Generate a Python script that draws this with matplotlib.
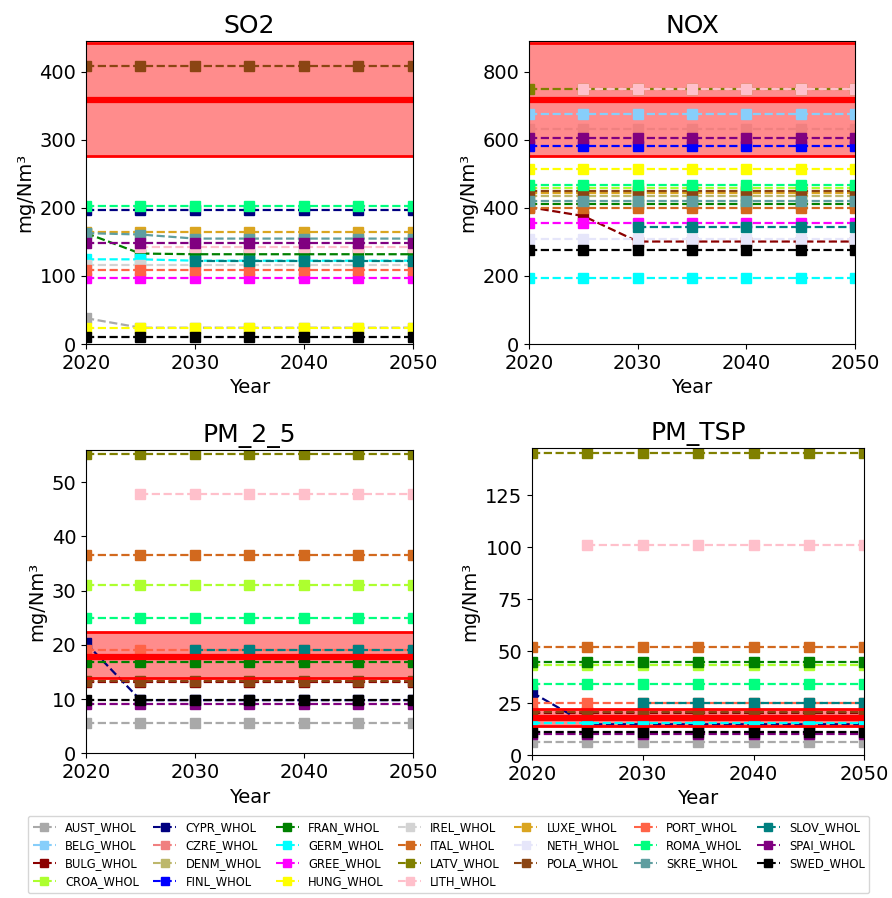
import matplotlib
matplotlib.use("Agg")
import matplotlib.pyplot as plt
from matplotlib.lines import Line2D
import numpy as np

nan = np.nan

years = [2020, 2025, 2030, 2035, 2040, 2045, 2050]

countries = ['AUST', 'BELG', 'BULG', 'CROA', 'CYPR', 'CZRE', 'DENM', 'FINL', 'FRAN',
             'GERM', 'GREE', 'HUNG', 'IREL', 'ITAL', 'LATV', 'LITH', 'LUXE', 'NETH',
             'POLA', 'PORT', 'ROMA', 'SKRE', 'SLOV', 'SPAI', 'SWED']

colors = ['darkgray', 'lightskyblue', 'darkred', 'greenyellow', 'navy', 'lightcoral',
          'darkkhaki', 'blue', 'green', 'cyan', 'magenta', 'yellow', 'lightgray',
          'chocolate', 'olive', 'pink', 'goldenrod', 'lavender', 'saddlebrown',
          'tomato', 'springgreen', 'cadetblue', 'teal', 'purple', 'black']

# emission values per country (mg/Nm3), NaN where a country has no value
so2 = {
    'AUST': [38, 24, 24, 24, 24, 24, 24],
    'CYPR': [197, 197, 197, 197, 197, 197, 197],
    'FRAN': [163, 133, 132, 132, 132, 132, 132],
    'GERM': [124.5, 124.5, 122.5, 122.5, 122.5, 122.5, 122.5],
    'GREE': [96.6, 96.6, 96.6, 96.6, 96.6, 96.6, 96.6],
    'HUNG': [24, 24, 24, 24, 24, 24, 24],
    'IREL': [116, 116, 116, 116, 116, 116, 116],
    'LITH': [nan, 142, 142, 142, 142, 142, 142],
    'LUXE': [164, 164, 164, 164, 164, 164, 164],
    'POLA': [408, 408, 408, 408, 408, 408, 408],
    'PORT': [109, 109, 109, 109, 109, 109, 109],
    'ROMA': [203, 203, 203, 203, 203, 203, 203],
    'SKRE': [163, 161, 155, 155, 155, 155, 155],
    'SLOV': [nan, nan, 122, 122, 122, 122, 122],
    'SPAI': [148, 148, 148, 148, 148, 148, 148],
    'SWED': [10.7, 10.7, 10.7, 10.7, 10.7, 10.7, 10.7],
}

nox = {
    'BELG': [676, 676, 676, 676, 676, 676, 676],
    'BULG': [402, 376, 301, 301, 301, 301, 301],
    'CROA': [458, 458, 458, 458, 458, 458, 458],
    'CZRE': [631, 631, 631, 631, 631, 631, 631],
    'DENM': [435, 435, 435, 435, 435, 435, 435],
    'FINL': [583, 583, 583, 583, 583, 583, 583],
    'FRAN': [411, 411, 411, 411, 411, 411, 411],
    'GERM': [195, 195, 195, 195, 195, 195, 195],
    'GREE': [355, 355, 355, 355, 355, 355, 355],
    'HUNG': [514, 514, 514, 514, 514, 514, 514],
    'ITAL': [399, 399, 399, 399, 399, 399, 399],
    'LATV': [749, 749, 749, 749, 749, 749, 749],
    'LITH': [nan, 749, 749, 749, 749, 749, 749],
    'LUXE': [444, 444, 444, 444, 444, 444, 444],
    'NETH': [309, 309, 309, 309, 309, 309, 309],
    'POLA': [449, 449, 449, 449, 449, 449, 449],
    'ROMA': [467, 467, 467, 467, 467, 467, 467],
    'SKRE': [421, 421, 421, 421, 421, 421, 421],
    'SLOV': [nan, nan, 345, 345, 345, 345, 345],
    'SPAI': [605, 605, 605, 605, 605, 605, 605],
    'SWED': [276, 276, 276, 276, 276, 276, 276],
}

pm25 = {
    'AUST': [5.6, 5.6, 5.6, 5.6, 5.6, 5.6, 5.6],
    'BULG': [13.1, 13.1, 13.1, 13.1, 13.1, 13.1, 13.1],
    'CROA': [31.0, 31.0, 31.0, 31.0, 31.0, 31.0, 31.0],
    'CYPR': [20.3, 9.8, 9.8, 9.8, 9.8, 9.8, 9.8],
    'FRAN': [16.8, 16.8, 16.8, 16.8, 16.8, 16.8, 16.8],
    'ITAL': [36.6, 36.6, 36.6, 36.6, 36.6, 36.6, 36.6],
    'LATV': [55.2, 55.2, 55.2, 55.2, 55.2, 55.2, 55.2],
    'LITH': [nan, 47.7, 47.7, 47.7, 47.7, 47.7, 47.7],
    'POLA': [13.3, 13.3, 13.3, 13.3, 13.3, 13.3, 13.3],
    'PORT': [19.0, 19.0, 19.0, 19.0, 19.0, 19.0, 19.0],
    'ROMA': [25.0, 25.0, 25.0, 25.0, 25.0, 25.0, 25.0],
    'SLOV': [nan, nan, 19.0, 19.0, 19.0, 19.0, 19.0],
    'SPAI': [9.1, 9.1, 9.1, 9.1, 9.1, 9.1, 9.1],
    'SWED': [9.9, 9.9, 9.9, 9.9, 9.9, 9.9, 9.9],
}

pmtsp = {
    'AUST': [6.4, 6.4, 6.4, 6.4, 6.4, 6.4, 6.4],
    'BULG': [20.3, 20.3, 20.3, 20.3, 20.3, 20.3, 20.3],
    'CROA': [43.3, 43.3, 43.3, 43.3, 43.3, 43.3, 43.3],
    'CYPR': [30.1, 14.8, 14.8, 14.8, 14.8, 14.8, 14.8],
    'FRAN': [44.6, 44.6, 44.6, 44.6, 44.6, 44.6, 44.6],
    'GERM': [15.2, 15.2, 15.2, 15.2, 15.2, 15.2, 15.2],
    'ITAL': [51.8, 51.8, 51.8, 51.8, 51.8, 51.8, 51.8],
    'LATV': [145.3, 145.3, 145.3, 145.3, 145.3, 145.3, 145.3],
    'LITH': [nan, 101, 101, 101, 101, 101, 101],
    'POLA': [20.5, 20.5, 20.5, 20.5, 20.5, 20.5, 20.5],
    'PORT': [25.2, 25.2, 25.2, 25.2, 25.2, 25.2, 25.2],
    'ROMA': [34.3, 34.3, 34.3, 34.3, 34.3, 34.3, 34.3],
    'SLOV': [nan, nan, 25.2, 25.2, 25.2, 25.2, 25.2],
    'SPAI': [10.2, 10.2, 10.2, 10.2, 10.2, 10.2, 10.2],
    'SWED': [11.0, 11.0, 11.0, 11.0, 11.0, 11.0, 11.0],
}

# emission limit range (low, mid, high) per pollutant
so2_limits = [276, 358, 443]
nox_limits = [551, 716, 884]
pm25_limits = [13.8, 17.7, 22.3]
pmtsp_limits = [13.9, 18.0, 22.0]

panels = [
    ('SO2', so2, so2_limits, 445, [0.0964, 0.6169, 0.3666, 0.3371]),
    ('NOX', nox, nox_limits, 889, [0.5930, 0.6169, 0.3655, 0.3371]),
    ('PM_2_5', pm25, pm25_limits, 55.9, [0.0964, 0.1611, 0.3666, 0.3378]),
    ('PM_TSP', pmtsp, pmtsp_limits, 147.5, [0.5964, 0.1592, 0.3725, 0.3415]),
]

fig = plt.figure(figsize=(8.92, 8.98), dpi=100)

for title, data, limits, ytop, rect in panels:
    ax = fig.add_axes(rect)
    for c, col in zip(countries, colors):
        if c in data:
            ax.plot(years, data[c], '--s', color=col, lw=1.6, ms=6.5)
    lo, mid, hi = limits
    ax.fill_between(years, lo, hi, color='red', alpha=0.45, lw=0)
    ax.axhline(lo, color='red', lw=2)
    ax.axhline(hi, color='red', lw=2)
    ax.axhline(mid, color='red', lw=4.5)
    ax.set_xlim(2020, 2050)
    ax.set_ylim(0, ytop)
    ax.set_xticks([2020, 2030, 2040, 2050])
    ax.tick_params(labelsize=14)
    ax.set_title(title, fontsize=18)
    ax.set_xlabel('Year', fontsize=14)
    ax.set_ylabel('mg/Nm³', fontsize=14)

handles = [Line2D([], [], ls='--', marker='s', color=col, lw=1.5, ms=5.5) for col in colors]
labels = [c + '_WHOL' for c in countries]
fig.legend(handles, labels, loc='lower center', bbox_to_anchor=(0.503, 0.0056),
           borderaxespad=0, ncol=7, fontsize=8.3, columnspacing=1.25,
           handletextpad=0.8, labelspacing=0.45)

fig.savefig('out.png', dpi=100)
